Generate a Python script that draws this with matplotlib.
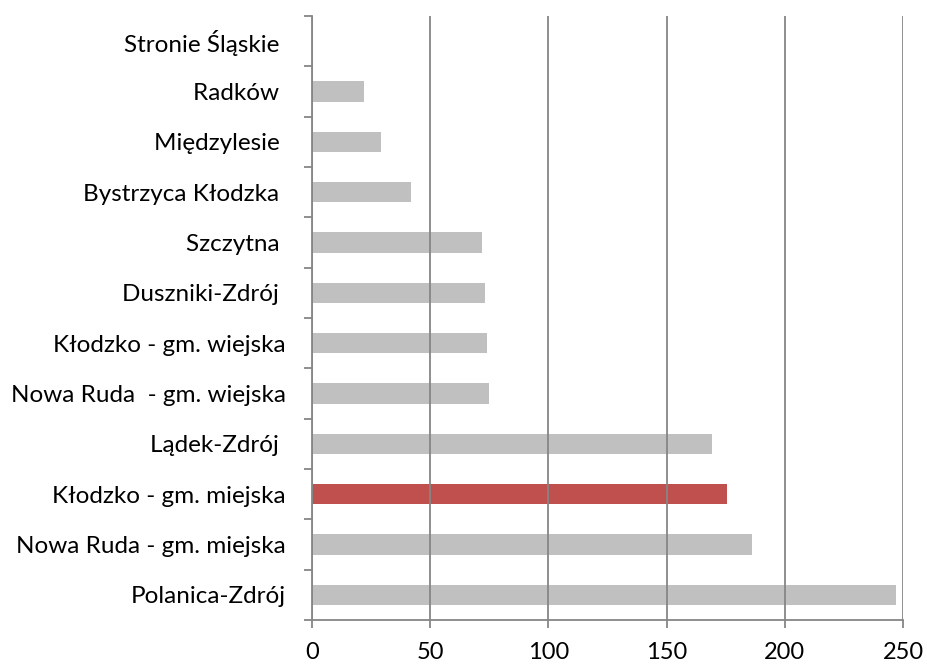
import matplotlib
matplotlib.use("Agg")
import matplotlib.pyplot as plt
from matplotlib.ticker import FixedLocator

plt.rcParams['font.family'] = ['Lato', 'DejaVu Sans']

categories = ["Polanica-Zdrój", "Nowa Ruda - gm. miejska", "Kłodzko - gm. miejska",
              "Lądek-Zdrój ", "Nowa Ruda  - gm. wiejska", "Kłodzko - gm. wiejska",
              "Duszniki-Zdrój ", "Szczytna ", "Bystrzyca Kłodzka ", "Międzylesie ",
              "Radków ", "Stronie Śląskie "]
values = [247, 186, 175.5, 169, 75, 74, 73, 72, 42, 29, 22, 0]
highlight = "Kłodzko - gm. miejska"
x_ticks = [0, 50, 100, 150, 200, 250]

fig = plt.figure(figsize=(9.27, 6.64), dpi=100)
ax = fig.add_axes([312/927, 44/664, 591/927, 604/664])

colors = ["#C0504D" if c == highlight else "#C0C0C0" for c in categories]
pos = list(range(len(categories)))
ax.barh(pos, values, height=0.4, color=colors, zorder=1)

ax.set_xlim(0, 250)
ax.set_ylim(-0.5, len(categories) - 0.5)
ax.set_xticks(x_ticks)
ax.set_xticklabels([str(t) for t in x_ticks])
ax.set_yticks(pos)
ax.set_yticklabels(categories)
ax.yaxis.set_minor_locator(FixedLocator([p - 0.5 for p in pos] + [len(categories) - 0.5]))

gc = "#868686"
ax.grid(axis='x', color=gc, linewidth=1.3, zorder=2)
ax.set_axisbelow(False)
for s in ['top', 'right']:
    ax.spines[s].set_visible(False)
for s in ['left', 'bottom']:
    ax.spines[s].set_color(gc)
    ax.spines[s].set_linewidth(1.3)
    ax.spines[s].set_zorder(3)

ax.tick_params(axis='y', which='major', length=0, pad=19, labelsize=17.5, labelcolor='black')
ax.tick_params(axis='y', which='minor', length=6, width=1.3, color=gc)
ax.tick_params(axis='x', which='major', length=6, width=1.3, color=gc, pad=10, labelsize=17, labelcolor='black')

fig.savefig("out.png", dpi=100)
